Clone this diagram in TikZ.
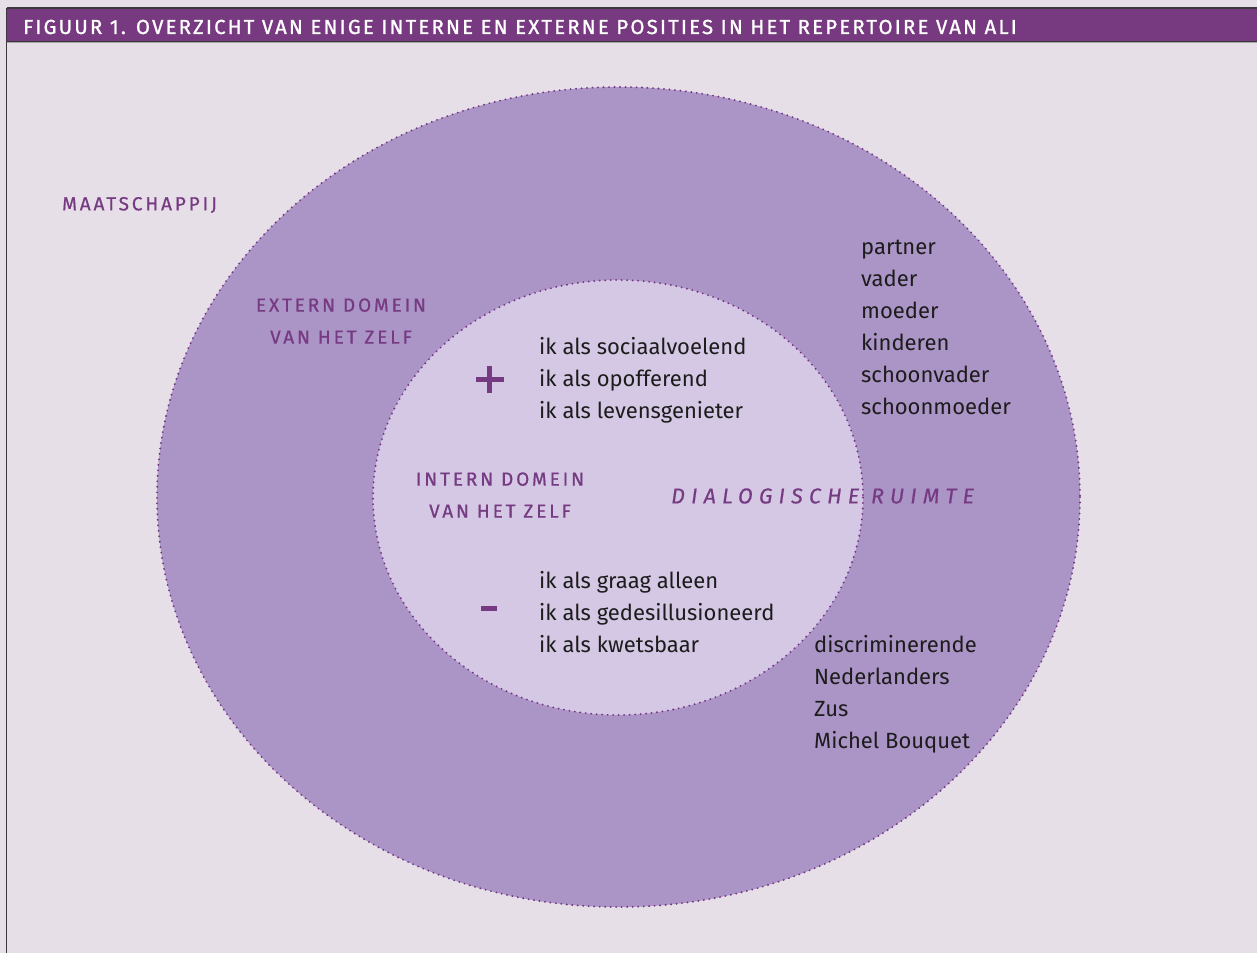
\documentclass[tikz,border=0pt]{standalone}
\usepackage{fontspec}
\setmainfont{Fira Sans}
\newfontfamily\labelcaps[LetterSpace=15,FakeBold=0.7]{Fira Sans}
\newfontfamily\titlecaps[LetterSpace=11,FakeBold=1.2]{Fira Sans}
\newfontfamily\spacedital[LetterSpace=29,FakeBold=0.5,ItalicFont={Fira Sans Italic}]{Fira Sans}
\definecolor{paper}{HTML}{E6DFE8}
\definecolor{barpurple}{HTML}{773A80}
\definecolor{outerfill}{HTML}{AB94C6}
\definecolor{innerfill}{HTML}{D4C8E4}
\definecolor{labelpurple}{HTML}{763A82}
\definecolor{dotpurple}{HTML}{753586}
\definecolor{inktext}{HTML}{1C1C1C}
\definecolor{rule}{HTML}{3A3A3A}
\tikzset{
  domain/.style={fill=#1, draw=dotpurple, line width=2.1pt, line cap=round, dash pattern=on 0pt off 5.5pt},
  caplabel/.style={text=labelpurple, font=\labelcaps\fontsize{19}{32}\selectfont, align=center, inner sep=0pt},
  poslist/.style={text=inktext, font=\fontsize{22}{32}\selectfont, align=left, anchor=west, inner sep=0pt},
  signmark/.style={fill=labelpurple}
}
\begin{document}
\begin{tikzpicture}[x=1pt,y=-1pt]
\useasboundingbox (0,0) rectangle (1257,953);
% page and frame
\fill[paper] (0,0) rectangle (1257,953);
\fill[barpurple] (7,9) rectangle (1257,41);
\draw[rule, line width=1.6pt] (6.5,8) -- (1257,8);
\draw[rule, line width=1.2pt] (7,41.5) -- (1257,41.5);
\draw[gray!70, line width=0.8pt] (7,42.8) -- (1257,42.8);
\draw[rule, line width=1.8pt] (6.5,8) -- (6.5,953);
\node[anchor=west, text=white, font=\titlecaps\fontsize{20.3}{20}\selectfont, inner sep=0pt] (title) at (23,27)
  {FIGUUR 1. OVERZICHT VAN ENIGE INTERNE EN EXTERNE POSITIES IN HET REPERTOIRE VAN ALI};

% two domains of the self
\path[domain=outerfill] (618.5,497) ellipse [x radius=461.5, y radius=410];
\path[domain=innerfill] (618,497.5) ellipse [x radius=245, y radius=217.5];

% domain labels
\node[caplabel, anchor=west] (society) at (62,205) {MAATSCHAPPIJ};
\node[caplabel] (external) at (341,321) {EXTERN DOMEIN\\VAN HET ZELF};
\node[caplabel] (internal) at (500,495) {INTERN DOMEIN\\VAN HET ZELF};
\node[anchor=west, text=labelpurple, inner sep=0pt, font=\spacedital\itshape\fontsize{21.5}{24}\selectfont] (dialogue) at (671,496) {DIALOGISCHE RUIMTE};

% plus and minus signs
\fill[signmark] (476.3,377) rectangle (503.7,381.7);
\fill[signmark] (487.3,365.7) rectangle (492,392.7) node[coordinate] (plus) {};
\fill[signmark] (480.5,605.5) rectangle (496.5,611) node[coordinate] (minus) {};

% internal positions
\node[poslist] (positive) at (539,380) {ik als sociaalvoelend\\ik als opofferend\\ik als levensgenieter};
\node[poslist] (negative) at (539,612) {ik als graag alleen\\ik als gedesillusioneerd\\ik als kwetsbaar};

% external positions
\node[poslist] (family) at (861,327) {partner\\vader\\moeder\\kinderen\\schoonvader\\schoonmoeder};
\node[poslist] (others) at (814,694) {discriminerende\\Nederlanders\\Zus\\Michel Bouquet};
\end{tikzpicture}
\end{document}
